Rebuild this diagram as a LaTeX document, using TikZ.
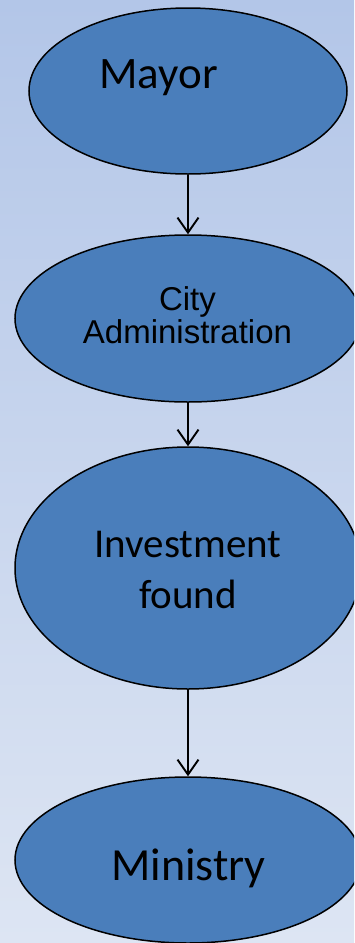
\documentclass[tikz,border=0pt]{standalone}
\usepackage{fontspec}
\setmainfont{Carlito}
\newfontfamily\arialfont{Liberation Sans}
\usetikzlibrary{shapes.geometric,arrows.meta}
\definecolor{bgtop}{HTML}{B3C6E8}
\definecolor{bgbot}{HTML}{DDE5F3}
\definecolor{ellfill}{HTML}{4A7EBB}
\tikzset{
  ell/.style={ellipse, draw=black, line width=1.5pt, fill=ellfill, inner sep=0pt},
  conn/.style={line width=1.9pt, -{Straight Barb[length=15pt,width=21pt,line width=1.9pt]}},
  lbl/.style={anchor=base, inner sep=0pt, text=black}
}
\begin{document}
\begin{tikzpicture}[x=1pt,y=-1pt]
\useasboundingbox (0,0) rectangle (354,943);
\shade[top color=bgtop, bottom color=bgbot] (0,0) rectangle (354,943);
\clip (0,0) rectangle (354,943);
\node[ell, minimum width=318pt, minimum height=166pt] (mayor) at (188,91) {};
\node[ell, minimum width=346pt, minimum height=167pt] (city) at (188,318.5) {};
\node[ell, minimum width=346pt, minimum height=242pt] (invest) at (188,568) {};
\node[ell, minimum width=346pt, minimum height=166pt] (ministry) at (188,860) {};
\node[lbl, font=\fontsize{45pt}{54pt}\selectfont] (tmayor) at (158.5,88) {Mayor};
\node[lbl, font=\arialfont\fontsize{33pt}{33pt}\selectfont] (tcity) at (187.5,310) {City};
\node[lbl, font=\arialfont\fontsize{33pt}{33pt}\selectfont] (tadmin) at (187.5,343) {Administration};
\node[lbl, font=\fontsize{41pt}{51pt}\selectfont] (tinv) at (188,557) {Investment};
\node[lbl, font=\fontsize{41pt}{51pt}\selectfont] (tfound) at (188,608) {found};
\node[lbl, font=\fontsize{46pt}{55pt}\selectfont] (tmin) at (188.5,880) {Ministry};
\draw[conn] (mayor.south) -- (city.north);
\draw[conn] (city.south) -- (invest.north);
\draw[conn] (invest.south) -- (ministry.north);
\end{tikzpicture}
\end{document}
